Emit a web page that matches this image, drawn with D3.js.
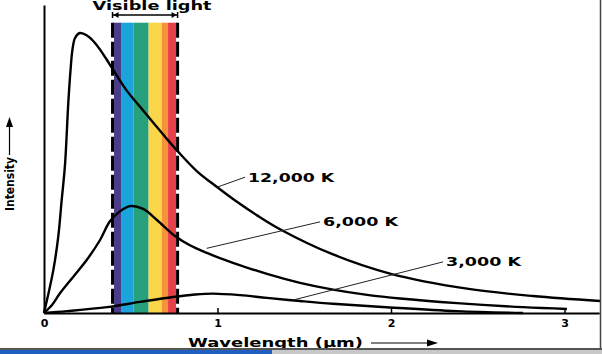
<!DOCTYPE html>
<html>
<head>
<meta charset="utf-8">
<script src="https://cdn.jsdelivr.net/npm/d3@7"></script>
<style>
    body { margin: 0; background: #fff; overflow: hidden; }
    text { font-family: "DejaVu Sans", Verdana, sans-serif; font-weight: bold; fill: #000; }
</style>
</head>
<body>
<div id="chart"></div>
<script>
// wavelength (µm) vs intensity (arbitrary units)
const curve12000 = [[0, 0], [0.054, 14.0], [0.082, 24.7], [0.102, 36.7], [0.121, 48.1], [0.140, 68.2],
    [0.153, 78.9], [0.164, 85.5], [0.179, 89.3], [0.207, 90.9], [0.248, 90.1], [0.284, 88.3], [0.323, 85.5],
    [0.361, 82.3], [0.395, 79.3], [0.477, 72.2], [0.553, 67.0], [0.630, 61.8], [0.707, 56.6], [0.774, 52.3],
    [0.882, 46.0], [0.997, 40.9], [1.112, 36.1], [1.228, 31.7], [1.360, 27.2], [1.666, 19.0], [1.994, 12.8],
    [2.438, 7.9], [2.818, 5.5], [3.205, 3.9]]
const curve6000 = [[0, 0], [0.046, 2.6], [0.092, 6.4], [0.169, 11.8], [0.246, 17.2], [0.323, 23.7],
    [0.380, 29.8], [0.438, 33.0], [0.496, 34.7], [0.571, 33.8], [0.651, 30.2], [0.755, 25.0], [0.841, 22.0],
    [0.939, 19.5], [1.014, 17.8], [1.089, 16.3], [1.285, 12.7], [1.476, 9.8], [1.666, 7.6], [1.862, 5.9],
    [2.052, 4.7], [2.380, 3.2], [2.761, 1.9], [3.014, 1.3]]
const curve3000 = [[0, 0], [0.133, 0.6], [0.363, 1.9], [0.553, 3.6], [0.744, 5.2], [0.870, 6.0],
    [0.974, 6.3], [1.130, 5.8], [1.285, 4.9], [1.476, 3.9], [1.666, 3.0], [1.994, 1.8], [2.380, 0.6], [2.761, 0]]

const seriesLabels = ["12,000 K", "6,000 K", "3,000 K"]
// leader line: point on the curve -> label end (µm, intensity)
const leaderFrom = [[0.995, 40.8], [0.938, 21.0], [1.435, 4.2]]
const leaderTo = [[1.159, 44.1], [1.591, 29.6], [2.300, 16.6]]

const wavelengthTicks = [0, 1, 2, 3]
const bandEdges = [0.395, 0.444, 0.515, 0.603, 0.678, 0.715, 0.77]
const bandColors = ["#4a3b8b", "#1ba4dc", "#27a07e", "#fbd54a", "#f7933b", "#e6414a"]

const W = 602, H = 354
const axisY = 313, axisTop = 5, bandTop = 22.7

const svg = d3.select("#chart")
    .append("svg")
    .attr("width", W)
    .attr("height", H)

const x = d3.scaleLinear().domain([0, 3.2]).range([44, 599.2])
const y = d3.scaleLinear().domain([0, 100]).range([axisY, axisTop])

// rainbow band
svg.selectAll("rect.band")
    .data(bandColors)
    .join("rect")
    .attr("class", "band")
    .attr("x", (d, i) => x(bandEdges[i]))
    .attr("width", (d, i) => x(bandEdges[i + 1]) - x(bandEdges[i]))
    .attr("y", bandTop)
    .attr("height", axisY - bandTop)
    .attr("fill", d => d)

const edges = [bandEdges[0], bandEdges[bandEdges.length - 1]]
svg.selectAll("line.edgeBg")
    .data(edges)
    .join("line")
    .attr("x1", d => x(d)).attr("x2", d => x(d))
    .attr("y1", bandTop).attr("y2", axisY)
    .attr("stroke", "#fff")
    .attr("stroke-width", 3)
svg.selectAll("line.edge")
    .data(edges)
    .join("line")
    .attr("x1", d => x(d)).attr("x2", d => x(d))
    .attr("y1", bandTop).attr("y2", axisY)
    .attr("stroke", "#000")
    .attr("stroke-width", 3)
    .attr("stroke-dasharray", "15,4")

// visible light label + double arrow
const vx0 = x(edges[0]), vx1 = x(edges[1]), vy = 15
svg.append("text")
    .attr("x", (vx0 + vx1) / 2 + 7)
    .attr("y", 9.5)
    .attr("text-anchor", "middle")
    .attr("font-size", 12)
    .attr("textLength", 119)
    .attr("lengthAdjust", "spacingAndGlyphs")
    .text("Visible light")
svg.append("line")
    .attr("x1", vx0).attr("x2", vx1).attr("y1", vy).attr("y2", vy)
    .attr("stroke", "#000").attr("stroke-width", 1.3)
svg.selectAll("line.vend")
    .data([vx0, vx1])
    .join("line")
    .attr("x1", d => d).attr("x2", d => d)
    .attr("y1", vy - 3).attr("y2", vy + 3)
    .attr("stroke", "#000").attr("stroke-width", 1.5)
svg.append("path")
    .attr("d", `M${vx0 + 1},${vy}l5,-3v6z M${vx1 - 1},${vy}l-5,-3v6z`)
    .attr("fill", "#000")

// curves
const line = d3.line()
    .x(d => x(d[0]))
    .y(d => y(d[1]))
    .curve(d3.curveCatmullRom.alpha(0.5))

svg.selectAll("path.curve")
    .data([curve12000, curve6000, curve3000])
    .join("path")
    .attr("class", "curve")
    .attr("d", line)
    .attr("fill", "none")
    .attr("stroke", "#000")
    .attr("stroke-width", 2.4)

// leaders and labels
const labelWidths = [86, 75, 75]
svg.selectAll("line.leader")
    .data(seriesLabels)
    .join("line")
    .attr("x1", (d, i) => x(leaderFrom[i][0]))
    .attr("y1", (d, i) => y(leaderFrom[i][1]))
    .attr("x2", (d, i) => x(leaderTo[i][0]))
    .attr("y2", (d, i) => y(leaderTo[i][1]))
    .attr("stroke", "#222")
    .attr("stroke-width", 1)
svg.selectAll("text.series")
    .data(seriesLabels)
    .join("text")
    .attr("x", (d, i) => x(leaderTo[i][0]) + 3)
    .attr("y", (d, i) => y(leaderTo[i][1]) + 4.5)
    .attr("font-size", 13)
    .attr("textLength", (d, i) => labelWidths[i])
    .attr("lengthAdjust", "spacingAndGlyphs")
    .text(d => d)

// axes
const xAxis = svg.append("g")
    .attr("transform", `translate(0,${axisY})`)
    .call(d3.axisBottom(x)
        .tickValues(wavelengthTicks)
        .tickSize(-5)
        .tickSizeOuter(0)
        .tickPadding(6.5)
        .tickFormat(d3.format("d")))
xAxis.select(".domain").attr("stroke", "#000").attr("stroke-width", 2)
xAxis.selectAll(".tick line").attr("stroke", "#000").attr("stroke-width", 1.5)
xAxis.selectAll(".tick text")
    .attr("font-size", 11)
    .style("font-family", "'DejaVu Sans', sans-serif")
    .style("font-weight", "bold")
    .attr("fill", "#000")

const yAxis = svg.append("g")
    .attr("transform", "translate(44,0)")
    .call(d3.axisLeft(y).tickValues([]).tickSizeOuter(0))
yAxis.select(".domain").attr("stroke", "#000").attr("stroke-width", 2)

// axis titles
svg.append("text")
    .attr("x", 188)
    .attr("y", 346.5)
    .attr("font-size", 11.5)
    .attr("textLength", 175)
    .attr("lengthAdjust", "spacingAndGlyphs")
    .text("Wavelength (µm)")
svg.append("line")
    .attr("x1", 371).attr("x2", 432).attr("y1", 343).attr("y2", 343)
    .attr("stroke", "#000").attr("stroke-width", 1.2)
svg.append("path")
    .attr("d", "M438,343l-11,-3.5v7z")
    .attr("fill", "#000")

svg.append("text")
    .attr("transform", "translate(14,211) rotate(-90)")
    .attr("font-size", 13)
    .style("font-family", "'DejaVu Sans Condensed', 'DejaVu Sans', sans-serif")
    .attr("textLength", 54)
    .attr("lengthAdjust", "spacingAndGlyphs")
    .text("Intensity")
svg.append("line")
    .attr("x1", 9.5).attr("x2", 9.5).attr("y1", 155).attr("y2", 124)
    .attr("stroke", "#000").attr("stroke-width", 1.2)
svg.append("path")
    .attr("d", "M9.5,117l-3.5,10h7z")
    .attr("fill", "#000")

// window frame bits
svg.append("line")
    .attr("x1", 600.5).attr("x2", 600.5).attr("y1", 0).attr("y2", 349)
    .attr("stroke", "#444").attr("stroke-width", 1.5)
svg.append("rect").attr("x", 0).attr("y", 348).attr("width", W).attr("height", 2).attr("fill", "#555")
svg.append("rect").attr("x", 0).attr("y", 350).attr("width", 272).attr("height", 4).attr("fill", "#1f5fbf")
svg.append("rect").attr("x", 272).attr("y", 350).attr("width", W - 272).attr("height", 4).attr("fill", "#c8c8c8")
</script>
</body>
</html>
